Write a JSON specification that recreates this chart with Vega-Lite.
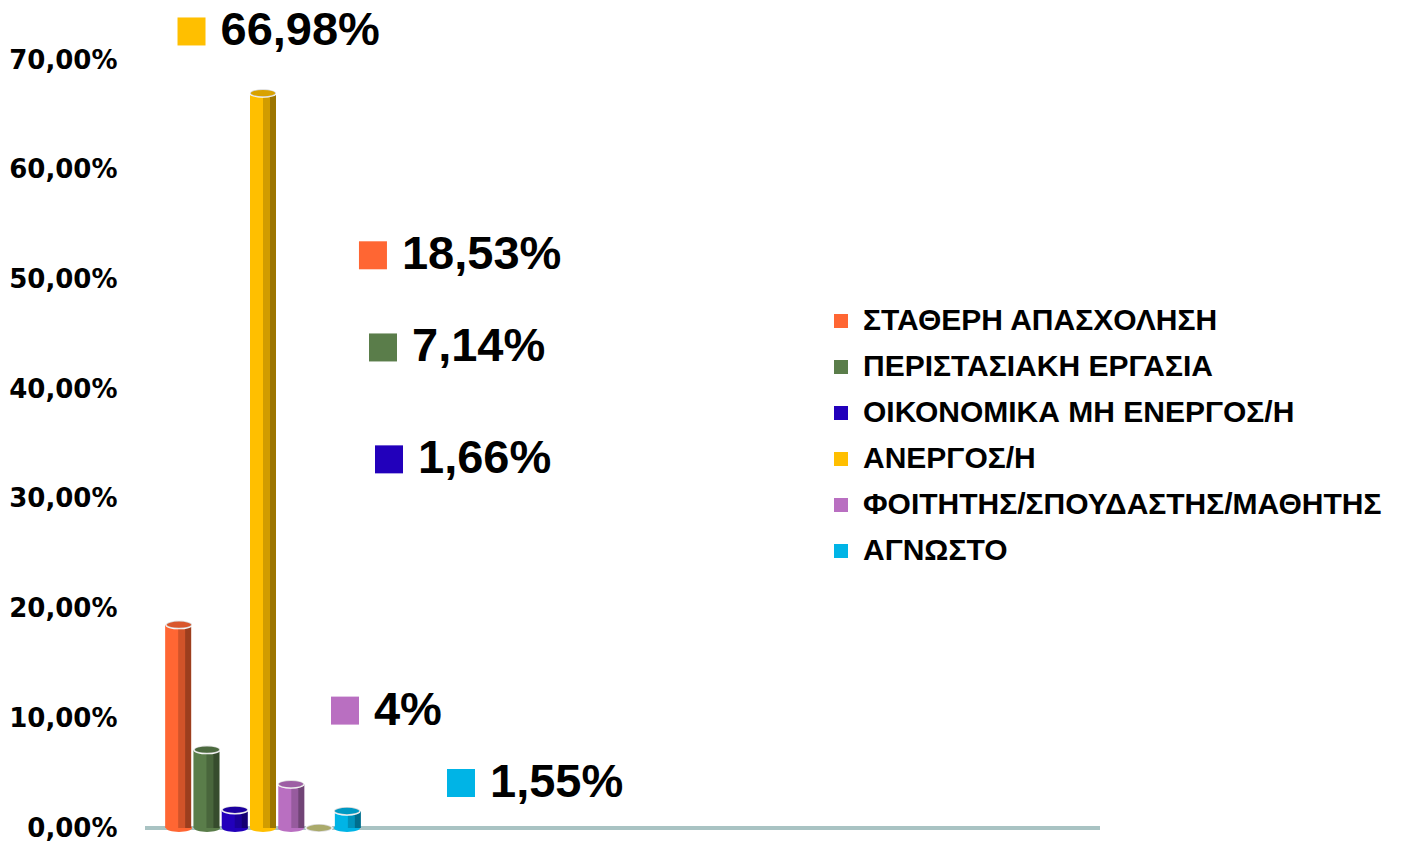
{
  "$schema": "https://vega.github.io/schema/vega-lite/v6.json",
  "width": 955,
  "height": 768,
  "autosize": {"type": "none"},
  "padding": {"left": 145, "top": 60, "right": 303, "bottom": 20},
  "background": "white",
  "config": {"view": {"stroke": null}},
  "data": {"values": [
    {"category": "ΣΤΑΘΕΡΗ ΑΠΑΣΧΟΛΗΣΗ", "value": 18.53, "label": "18,53%", "labelX": 23.87, "labelY": 52.2},
    {"category": "ΠΕΡΙΣΤΑΣΙΑΚΗ ΕΡΓΑΣΙΑ", "value": 7.14, "label": "7,14%", "labelX": 24.92, "labelY": 43.8},
    {"category": "ΟΙΚΟΝΟΜΙΚΑ ΜΗ ΕΝΕΡΓΟΣ/Η", "value": 1.66, "label": "1,66%", "labelX": 25.55, "labelY": 33.6},
    {"category": "ΑΝΕΡΓΟΣ/Η", "value": 66.98, "label": "66,98%", "labelX": 4.87, "labelY": 72.6},
    {"category": "ΦΟΙΤΗΤΗΣ/ΣΠΟΥΔΑΣΤΗΣ/ΜΑΘΗΤΗΣ", "value": 4, "label": "4%", "labelX": 20.94, "labelY": 10.7},
    {"category": "-", "value": 0, "label": null, "labelX": null, "labelY": null},
    {"category": "ΑΓΝΩΣΤΟ", "value": 1.55, "label": "1,55%", "labelX": 33.09, "labelY": 4.1}
  ]},
  "resolve": {"scale": {"x": "independent"}},
  "encoding": {
    "color": {
      "field": "category",
      "type": "nominal",
      "scale": {
        "domain": ["ΣΤΑΘΕΡΗ ΑΠΑΣΧΟΛΗΣΗ", "ΠΕΡΙΣΤΑΣΙΑΚΗ ΕΡΓΑΣΙΑ", "ΟΙΚΟΝΟΜΙΚΑ ΜΗ ΕΝΕΡΓΟΣ/Η", "ΑΝΕΡΓΟΣ/Η", "ΦΟΙΤΗΤΗΣ/ΣΠΟΥΔΑΣΤΗΣ/ΜΑΘΗΤΗΣ", "-", "ΑΓΝΩΣΤΟ"],
        "range": ["#FF6633", "#5A7D4A", "#2200BB", "#FFBF00", "#B96FC1", "#C8C87E", "#00B4E6"]
      },
      "legend": {
        "values": ["ΣΤΑΘΕΡΗ ΑΠΑΣΧΟΛΗΣΗ", "ΠΕΡΙΣΤΑΣΙΑΚΗ ΕΡΓΑΣΙΑ", "ΟΙΚΟΝΟΜΙΚΑ ΜΗ ΕΝΕΡΓΟΣ/Η", "ΑΝΕΡΓΟΣ/Η", "ΦΟΙΤΗΤΗΣ/ΣΠΟΥΔΑΣΤΗΣ/ΜΑΘΗΤΗΣ", "ΑΓΝΩΣΤΟ"],
        "title": null,
        "orient": "none",
        "legendX": 681,
        "legendY": 246,
        "symbolType": "square",
        "symbolSize": 196,
        "symbolStrokeWidth": 0,
        "labelFont": "Liberation Sans",
        "labelFontSize": 30,
        "labelFontWeight": "bold",
        "labelColor": "black",
        "labelOffset": 7,
        "labelLimit": 700,
        "rowPadding": 16
      }
    }
  },
  "layer": [
    {
      "mark": {"type": "rule", "strokeWidth": 4},
      "encoding": {
        "y": {"datum": 0, "type": "quantitative"},
        "color": {"value": "#A9C3C3"}
      }
    },
    {
      "mark": {"type": "point", "shape": "M -1 0 A 1 0.3 0 1 0 1 0 A 1 0.3 0 1 0 -1 0 Z", "size": 676, "filled": true, "opacity": 1},
      "encoding": {
        "x": {"field": "category", "type": "nominal", "sort": null, "axis": null,
              "scale": {"range": [20, 216], "paddingInner": 0.07, "paddingOuter": 0}},
        "y": {"datum": 0, "type": "quantitative"}
      }
    },
    {
      "mark": {"type": "bar", "width": 26},
      "encoding": {
        "x": {"field": "category", "type": "nominal", "sort": null, "axis": null,
              "scale": {"range": [20, 216], "paddingInner": 0.07, "paddingOuter": 0}},
        "y": {"field": "value", "type": "quantitative",
              "scale": {"domain": [0, 70]},
              "axis": {
                "title": null, "values": [0, 10, 20, 30, 40, 50, 60, 70],
                "grid": false, "domain": false, "ticks": false,
                "labelPadding": 28,
                "labelFont": "DejaVu Sans", "labelFontSize": 26, "labelFontWeight": "bold", "labelColor": "black",
                "labelExpr": "replace(format(datum.value, '.2f'), '.', ',') + '%'"
              }}
      }
    },
    {
      "mark": {"type": "bar", "width": 13, "xOffset": 6.5, "opacity": 0.18},
      "encoding": {
        "x": {"field": "category", "type": "nominal", "sort": null, "axis": null,
              "scale": {"range": [20, 216], "paddingInner": 0.07, "paddingOuter": 0}},
        "y": {"field": "value", "type": "quantitative"},
        "color": {"value": "black"}
      }
    },
    {
      "mark": {"type": "bar", "width": 6, "xOffset": 10, "opacity": 0.25},
      "encoding": {
        "x": {"field": "category", "type": "nominal", "sort": null, "axis": null,
              "scale": {"range": [20, 216], "paddingInner": 0.07, "paddingOuter": 0}},
        "y": {"field": "value", "type": "quantitative"},
        "color": {"value": "black"}
      }
    },
    {
      "mark": {"type": "point", "shape": "M -1 0 A 1 0.3 0 1 0 1 0 A 1 0.3 0 1 0 -1 0 Z", "size": 676, "filled": true, "opacity": 1, "stroke": "white", "strokeWidth": 1.5},
      "encoding": {
        "x": {"field": "category", "type": "nominal", "sort": null, "axis": null,
              "scale": {"range": [20, 216], "paddingInner": 0.07, "paddingOuter": 0}},
        "y": {"field": "value", "type": "quantitative"}
      }
    },
    {
      "mark": {"type": "point", "shape": "M -1 0 A 1 0.3 0 1 0 1 0 A 1 0.3 0 1 0 -1 0 Z", "size": 676, "filled": true, "opacity": 0.15},
      "encoding": {
        "x": {"field": "category", "type": "nominal", "sort": null, "axis": null,
              "scale": {"range": [20, 216], "paddingInner": 0.07, "paddingOuter": 0}},
        "y": {"field": "value", "type": "quantitative"},
        "color": {"value": "black"}
      }
    },
    {
      "transform": [{"filter": "datum.label != null"}],
      "mark": {"type": "point", "shape": "square", "size": 784, "filled": true, "opacity": 1},
      "encoding": {
        "x": {"field": "labelX", "type": "quantitative", "scale": {"domain": [0, 100]}, "axis": null},
        "y": {"field": "labelY", "type": "quantitative"}
      }
    },
    {
      "transform": [{"filter": "datum.label != null"}],
      "mark": {"type": "text", "align": "left", "baseline": "middle", "dx": 29, "font": "Liberation Sans", "fontSize": 47, "fontWeight": "bold"},
      "encoding": {
        "x": {"field": "labelX", "type": "quantitative", "scale": {"domain": [0, 100]}, "axis": null},
        "y": {"field": "labelY", "type": "quantitative"},
        "text": {"field": "label"},
        "color": {"value": "black"}
      }
    }
  ]
}
